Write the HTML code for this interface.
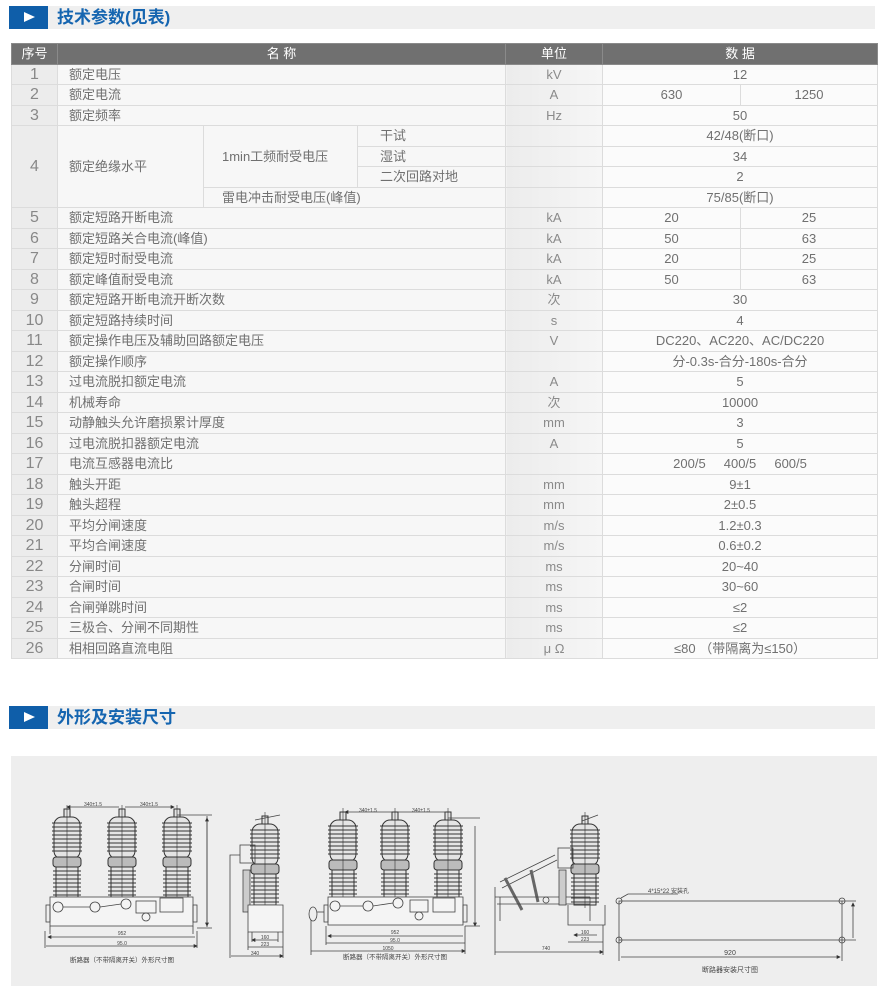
<!DOCTYPE html>
<html><head><meta charset="utf-8">
<style>
*{margin:0;padding:0;box-sizing:border-box}
body{width:880px;height:986px;background:#fff;position:relative;overflow:hidden;font-family:"Liberation Sans","Noto Sans CJK SC",sans-serif;color:#707070}
.hdr{position:absolute;left:9px;width:866px;height:23px;background:#efefef}
.hdr .b{position:absolute;left:0;top:0;width:39px;height:23px;background:#0f5ea9}
.hdr .b:after{content:"";position:absolute;left:15px;top:6px;border-left:11px solid #fff;border-top:5.5px solid transparent;border-bottom:5.5px solid transparent}
.hdr .t{position:absolute;left:48px;top:0;line-height:23px;font-size:17px;font-weight:bold;color:#1565b0}
table{position:absolute;left:11px;top:43px;width:866px;border-collapse:collapse;table-layout:fixed;font-size:13px}
td{height:20.5px;border:1px solid #dcdcdc;padding:0;line-height:19px;white-space:nowrap;overflow:hidden}
tr.h td{background:#707070;color:#fff;text-align:center;border-color:#8a8a8a;font-size:13px}
td.n{background:#ececec;text-align:center;font-size:16px;color:#888}
td.m{background:#f7f7f7;padding-left:11px}
td.u{background:linear-gradient(90deg,#ececec,#f6f6f6);text-align:center;color:#8a8a8a}
td.d{background:#fbfbfb;text-align:center}
.panel{position:absolute;left:11px;top:756px;width:866px;height:230px;background:#eeeeee}
</style></head><body>
<div class="hdr" style="top:6px"><div class="b"></div><div class="t">技术参数(见表)</div></div>
<table>
<colgroup><col style="width:46px"><col style="width:146px"><col style="width:154px"><col style="width:148px"><col style="width:97px"><col style="width:138px"><col style="width:137px"></colgroup>
<tr class="h"><td>序号</td><td colspan="3">名 称</td><td>单位</td><td colspan="2">数 据</td></tr>
<tr><td class="n">1</td><td class="m" colspan="3">额定电压</td><td class="u">kV</td><td class="d" colspan="2">12</td></tr>
<tr><td class="n">2</td><td class="m" colspan="3">额定电流</td><td class="u">A</td><td class="d">630</td><td class="d">1250</td></tr>
<tr><td class="n">3</td><td class="m" colspan="3">额定频率</td><td class="u">Hz</td><td class="d" colspan="2">50</td></tr>
<tr><td class="n" rowspan="4">4</td><td class="m" rowspan="4">额定绝缘水平</td><td class="m" rowspan="3" style="padding-left:18px">1min工频耐受电压</td><td class="m" style="padding-left:22px">干试</td><td class="u"></td><td class="d" colspan="2">42/48(断口)</td></tr>
<tr><td class="m" style="padding-left:22px">湿试</td><td class="u"></td><td class="d" colspan="2">34</td></tr>
<tr><td class="m" style="padding-left:22px">二次回路对地</td><td class="u"></td><td class="d" colspan="2">2</td></tr>
<tr><td class="m" colspan="2" style="padding-left:18px">雷电冲击耐受电压(峰值)</td><td class="u"></td><td class="d" colspan="2">75/85(断口)</td></tr>
<tr><td class="n">5</td><td class="m" colspan="3">额定短路开断电流</td><td class="u">kA</td><td class="d">20</td><td class="d">25</td></tr>
<tr><td class="n">6</td><td class="m" colspan="3">额定短路关合电流(峰值)</td><td class="u">kA</td><td class="d">50</td><td class="d">63</td></tr>
<tr><td class="n">7</td><td class="m" colspan="3">额定短时耐受电流</td><td class="u">kA</td><td class="d">20</td><td class="d">25</td></tr>
<tr><td class="n">8</td><td class="m" colspan="3">额定峰值耐受电流</td><td class="u">kA</td><td class="d">50</td><td class="d">63</td></tr>
<tr><td class="n">9</td><td class="m" colspan="3">额定短路开断电流开断次数</td><td class="u">次</td><td class="d" colspan="2">30</td></tr>
<tr><td class="n">10</td><td class="m" colspan="3">额定短路持续时间</td><td class="u">s</td><td class="d" colspan="2">4</td></tr>
<tr><td class="n">11</td><td class="m" colspan="3">额定操作电压及辅助回路额定电压</td><td class="u">V</td><td class="d" colspan="2">DC220、AC220、AC/DC220</td></tr>
<tr><td class="n">12</td><td class="m" colspan="3">额定操作顺序</td><td class="u"></td><td class="d" colspan="2">分-0.3s-合分-180s-合分</td></tr>
<tr><td class="n">13</td><td class="m" colspan="3">过电流脱扣额定电流</td><td class="u">A</td><td class="d" colspan="2">5</td></tr>
<tr><td class="n">14</td><td class="m" colspan="3">机械寿命</td><td class="u">次</td><td class="d" colspan="2">10000</td></tr>
<tr><td class="n">15</td><td class="m" colspan="3">动静触头允许磨损累计厚度</td><td class="u">mm</td><td class="d" colspan="2">3</td></tr>
<tr><td class="n">16</td><td class="m" colspan="3">过电流脱扣器额定电流</td><td class="u">A</td><td class="d" colspan="2">5</td></tr>
<tr><td class="n">17</td><td class="m" colspan="3">电流互感器电流比</td><td class="u"></td><td class="d" colspan="2">200/5&nbsp;&nbsp;&nbsp;&nbsp;&nbsp;400/5&nbsp;&nbsp;&nbsp;&nbsp;&nbsp;600/5</td></tr>
<tr><td class="n">18</td><td class="m" colspan="3">触头开距</td><td class="u">mm</td><td class="d" colspan="2">9±1</td></tr>
<tr><td class="n">19</td><td class="m" colspan="3">触头超程</td><td class="u">mm</td><td class="d" colspan="2">2±0.5</td></tr>
<tr><td class="n">20</td><td class="m" colspan="3">平均分闸速度</td><td class="u">m/s</td><td class="d" colspan="2">1.2±0.3</td></tr>
<tr><td class="n">21</td><td class="m" colspan="3">平均合闸速度</td><td class="u">m/s</td><td class="d" colspan="2">0.6±0.2</td></tr>
<tr><td class="n">22</td><td class="m" colspan="3">分闸时间</td><td class="u">ms</td><td class="d" colspan="2">20~40</td></tr>
<tr><td class="n">23</td><td class="m" colspan="3">合闸时间</td><td class="u">ms</td><td class="d" colspan="2">30~60</td></tr>
<tr><td class="n">24</td><td class="m" colspan="3">合闸弹跳时间</td><td class="u">ms</td><td class="d" colspan="2">≤2</td></tr>
<tr><td class="n">25</td><td class="m" colspan="3">三极合、分闸不同期性</td><td class="u">ms</td><td class="d" colspan="2">≤2</td></tr>
<tr><td class="n">26</td><td class="m" colspan="3">相相回路直流电阻</td><td class="u">μ Ω</td><td class="d" colspan="2">≤80 （带隔离为≤150）</td></tr>
</table>
<div class="hdr" style="top:706px"><div class="b"></div><div class="t">外形及安装尺寸</div></div>
<div class="panel"></div>
<svg style="position:absolute;left:0;top:0" width="880" height="986" viewBox="0 0 880 986">
<defs>
<g id="ins" stroke="#333" stroke-width="1" fill="#e4e4e4">
<rect x="-3" y="-6" width="6" height="8"/>
<rect x="-13" y="2" width="26" height="42" rx="8"/>
<path d="M-15 8H15M-15 12H15M-15 16H15M-15 20H15M-15 24H15M-15 28H15M-15 32H15M-15 36H15" />
<rect x="-14" y="42" width="28" height="10" rx="3" fill="#bbb"/>
<rect x="-11" y="52" width="22" height="31"/>
<path d="M-14 56H14M-14 60H14M-14 64H14M-14 68H14M-14 72H14M-14 76H14M-14 80H14"/>
<path d="M0 -10V86" stroke-width="0.6"/>
</g>
<marker id="a" viewBox="0 0 6 6" refX="5" refY="3" markerWidth="5" markerHeight="5" orient="auto-start-reverse"><path d="M0 0L6 3L0 6z" fill="#333"/></marker>
</defs>
<g stroke="#444" stroke-width="0.8" fill="none" font-family="Liberation Sans,Noto Sans CJK SC,sans-serif">
<use href="#ins" x="67" y="815"/><use href="#ins" x="122" y="815"/><use href="#ins" x="177" y="815"/>
<rect x="50" y="897" width="143" height="29" fill="#f4f4f4"/>
<rect x="46" y="905" width="4" height="17"/><rect x="193" y="905" width="4" height="17"/>
<circle cx="58" cy="907" r="5"/><circle cx="95" cy="907" r="5"/><circle cx="126" cy="904" r="5"/>
<path d="M63 907H90M100 907L121 904"/>
<rect x="136" y="901" width="20" height="12"/><rect x="160" y="898" width="23" height="14"/>
<circle cx="146" cy="917" r="4"/>
<path d="M50 926V934M193 926V934M45 931V948M197 931V948"/>
<path d="M48 937H195M46 946H197" marker-start="url(#a)" marker-end="url(#a)"/>
<path d="M67 807H119M125 807H174" marker-start="url(#a)" marker-end="url(#a)"/>
<path d="M177 815H212M197 928H212M207 816V927" />
<path d="M207 818V926" marker-start="url(#a)" marker-end="url(#a)"/>
<use href="#ins" x="265" y="822"/>
<path d="M255 820L280 815"/>
<rect x="240" y="845" width="15" height="18"/>
<path d="M240 855H230V958"/>
<rect x="243" y="870" width="7" height="42" fill="#ccc"/>
<path d="M248 905H283V932H248Z" fill="#f4f4f4"/>
<path d="M252 940H278M248 947H283M231 956H283" marker-start="url(#a)" marker-end="url(#a)"/>
<path d="M252 932V942M278 932V942M283 932V958M248 932V950"/>
<use href="#ins" x="343" y="818"/><use href="#ins" x="395" y="818"/><use href="#ins" x="448" y="818"/>
<rect x="328" y="897" width="135" height="28" fill="#f4f4f4"/>
<rect x="324" y="905" width="4" height="17"/><rect x="463" y="905" width="4" height="17"/>
<circle cx="335" cy="906" r="5"/><circle cx="368" cy="906" r="5"/><circle cx="398" cy="903" r="5"/>
<path d="M340 906H363M373 906L393 903"/>
<rect x="410" y="900" width="18" height="12"/><rect x="433" y="898" width="22" height="14"/>
<circle cx="419" cy="916" r="4"/>
<ellipse cx="313" cy="914" rx="4" ry="7"/><path d="M317 912H324"/>
<path d="M328 936H463M326 943H465M311 951H465" marker-start="url(#a)" marker-end="url(#a)"/>
<path d="M345 812H392M398 812H446M475 826V926" marker-start="url(#a)" marker-end="url(#a)"/>
<path d="M448 818H480M465 926H480M326 926V945M465 926V954M311 920V955"/>
<use href="#ins" x="585" y="822"/>
<path d="M582 821L598 815"/>
<rect x="558" y="848" width="15" height="20"/>
<path d="M500 882L555 855M502 888L557 860"/>
<path d="M505 878L522 910M531 870L538 902" stroke-width="3" stroke="#666"/>
<path d="M495 897H590M497 904H590M500 897V921M590 897V921"/>
<circle cx="546" cy="900" r="3"/>
<rect x="559" y="870" width="7" height="35" fill="#ccc"/>
<path d="M568 905V925H605V905"/>
<path d="M574 935H597M568 942H603M495 952H603" marker-start="url(#a)" marker-end="url(#a)"/>
<path d="M495 887V955M603 925V955"/>
<rect x="619" y="901" width="223" height="39"/>
<circle cx="619" cy="901" r="3"/><circle cx="842" cy="901" r="3"/><circle cx="619" cy="940" r="3"/><circle cx="842" cy="940" r="3"/>
<path d="M621 898L628 894H678"/>
<path d="M842 901H856M842 940H856"/>
<path d="M853 903V938M621 957H840" marker-start="url(#a)" marker-end="url(#a)"/>
<path d="M619 940V961M842 940V961"/>
</g>
<g font-family="Liberation Sans,Noto Sans CJK SC,sans-serif" fill="#444" text-anchor="middle">
<text x="93" y="806" font-size="5">340±1.5</text><text x="149" y="806" font-size="5">340±1.5</text>
<text x="122" y="935" font-size="5">952</text><text x="122" y="945" font-size="5">95.0</text>
<text x="122" y="962" font-size="6.5">断路器（不带隔离开关）外形尺寸图</text>
<text x="265" y="939" font-size="5">160</text><text x="265" y="946" font-size="5">223</text><text x="255" y="955" font-size="5">340</text>
<text x="368" y="812" font-size="5">340±1.5</text><text x="421" y="812" font-size="5">340±1.5</text>
<text x="395" y="934" font-size="5">952</text><text x="395" y="942" font-size="5">95.0</text><text x="388" y="950" font-size="5">1050</text>
<text x="395" y="959" font-size="6.5">断路器（不带隔离开关）外形尺寸图</text>
<text x="585" y="934" font-size="5">160</text><text x="585" y="941" font-size="5">223</text><text x="546" y="950" font-size="5">740</text>
<text x="648" y="893" font-size="6" text-anchor="start">4*15*22 安装孔</text>
<text x="730" y="955" font-size="7">920</text>
<text x="730" y="972" font-size="7">断路器安装尺寸图</text>
</g>
</svg>
</body></html>
